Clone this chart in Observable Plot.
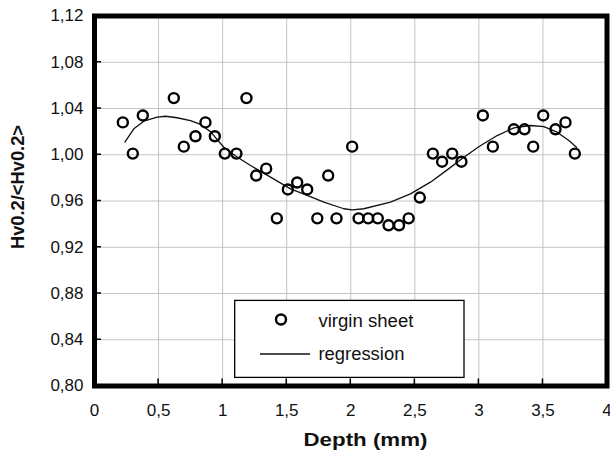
<!DOCTYPE html>
<html>
<head>
<meta charset="utf-8">
<script src="https://cdn.jsdelivr.net/npm/d3@7"></script>
<script src="https://cdn.jsdelivr.net/npm/@observablehq/plot@0.6"></script>
<style>
  html, body { margin: 0; padding: 0; background: #fff; }
  #chart { width: 610px; height: 454px; }
</style>
</head>
<body>
<div id="chart"></div>
<script>
// ---- data ----
const depth = [0.221, 0.299, 0.377, 0.619, 0.697, 0.788, 0.866, 0.939, 1.017, 1.108,
  1.186, 1.262, 1.340, 1.423, 1.509, 1.582, 1.660, 1.739, 1.824, 1.889,
  2.011, 2.061, 2.136, 2.211, 2.295, 2.377, 2.452, 2.539, 2.641, 2.713,
  2.792, 2.864, 3.031, 3.109, 3.273, 3.356, 3.424, 3.502, 3.598, 3.676, 3.749];
const hardness = [1.028, 1.001, 1.034, 1.049, 1.007, 1.016, 1.028, 1.016, 1.001, 1.001,
  1.049, 0.982, 0.988, 0.945, 0.970, 0.976, 0.970, 0.945, 0.982, 0.945,
  1.007, 0.945, 0.945, 0.945, 0.939, 0.939, 0.945, 0.963, 1.001, 0.994,
  1.001, 0.994, 1.034, 1.007, 1.022, 1.022, 1.007, 1.034, 1.022, 1.028, 1.001];

const regDepth = [0.237, 0.307, 0.385, 0.489, 0.554, 0.645, 0.749, 0.827, 0.905, 1.009,
  1.113, 1.218, 1.374, 1.530, 1.660, 1.790, 1.946, 2.011, 2.102, 2.310,
  2.466, 2.622, 2.753, 2.883, 3.005, 3.143, 3.273, 3.403, 3.507, 3.611, 3.702, 3.762];
const regValue = [1.011, 1.0224, 1.029, 1.0325, 1.0333, 1.032, 1.0296, 1.0262, 1.020, 1.0065,
  0.998, 0.9907, 0.9806, 0.9705, 0.9648, 0.959, 0.9533, 0.9524, 0.9533, 0.959,
  0.9662, 0.9763, 0.9869, 0.9979, 1.0074, 1.0166, 1.0233, 1.0253, 1.0244, 1.0195, 1.0123, 1.0065];

const xTicks = [0, 0.5, 1, 1.5, 2, 2.5, 3, 3.5, 4];
const xTickLabels = ["0", "0,5", "1", "1,5", "2", "2,5", "3", "3,5", "4"];
const yTicks = [0.80, 0.84, 0.88, 0.92, 0.96, 1.00, 1.04, 1.08, 1.12];
const yTickLabels = ["0,80", "0,84", "0,88", "0,92", "0,96", "1,00", "1,04", "1,08", "1,12"];

const xTitle = "Depth (mm)";
const yTitle = "Hv0.2/<Hv0.2>";
const legendLabels = ["virgin sheet", "regression"];

// ---- build tables ----
const points = depth.map((d, i) => ({depth: d, value: hardness[i]}));
const curve = regDepth.map((d, i) => ({depth: d, value: regValue[i]}));

const FONT = "'Liberation Sans', Arial, Helvetica, sans-serif";

const fig = Plot.plot({
  width: 610,
  height: 454,
  marginLeft: 94,
  marginRight: 3.5,
  marginTop: 15.5,
  marginBottom: 68.5,
  style: {fontFamily: FONT, background: "#fff", overflow: "visible"},
  x: {domain: [0, 4]},
  y: {domain: [0.80, 1.12]},
  marks: [
    Plot.gridX(xTicks, {stroke: "#c4c4c4", strokeOpacity: 1, strokeWidth: 1}),
    Plot.gridY(yTicks, {stroke: "#c4c4c4", strokeOpacity: 1, strokeWidth: 1}),
    Plot.axisX(xTicks, {
      tickSize: 0, tickPadding: 18, fontSize: 17, fill: "#111",
      tickFormat: d => xTickLabels[xTicks.indexOf(d)], label: null
    }),
    Plot.axisY(yTicks, {
      tickSize: 0, tickPadding: 11, fontSize: 17, fill: "#111",
      tickFormat: d => yTickLabels[yTicks.indexOf(d)], label: null
    }),
    Plot.line(curve, {x: "depth", y: "value", stroke: "#111", strokeWidth: 1.3, curve: "linear"}),
    Plot.dot(points, {x: "depth", y: "value", r: 5, stroke: "#000", strokeWidth: 2.4, fill: "none"}),
    Plot.frame({stroke: "#000", strokeWidth: 5})
  ]
});

document.getElementById("chart").appendChild(fig);

// ---- inward tick marks, titles and legend ----
const svg = d3.select(fig);
const sx = fig.scale("x"), sy = fig.scale("y");
const x0 = sx.apply(0), yBottom = sy.apply(0.80);

const tg = svg.append("g").attr("stroke", "#000").attr("stroke-width", 1.5);
xTicks.slice(1, -1).forEach(t => {
  const px = sx.apply(t);
  tg.append("line").attr("x1", px).attr("x2", px).attr("y1", yBottom).attr("y2", yBottom - 7);
});
yTicks.slice(1, -1).forEach(t => {
  const py = sy.apply(t);
  tg.append("line").attr("x1", x0).attr("x2", x0 + 7).attr("y1", py).attr("y2", py);
});

svg.append("text")
  .attr("x", 365.5).attr("y", 445.5)
  .attr("text-anchor", "middle")
  .attr("font-family", FONT).attr("font-weight", "bold").attr("font-size", 18.5)
  .attr("textLength", 124).attr("lengthAdjust", "spacingAndGlyphs")
  .attr("fill", "#111")
  .text(xTitle);

svg.append("text")
  .attr("transform", "translate(23.5,187) rotate(-90)")
  .attr("text-anchor", "middle")
  .attr("font-family", FONT).attr("font-weight", "bold").attr("font-size", 18.3)
  .attr("fill", "#111")
  .text(yTitle);

const lg = svg.append("g");
lg.append("rect")
  .attr("x", 234.7).attr("y", 300.4).attr("width", 229.3).attr("height", 77)
  .attr("fill", "#fff").attr("stroke", "#000").attr("stroke-width", 1.3);
lg.append("circle")
  .attr("cx", 281).attr("cy", 319.5).attr("r", 5)
  .attr("fill", "none").attr("stroke", "#000").attr("stroke-width", 2.4);
lg.append("line")
  .attr("x1", 260).attr("x2", 310).attr("y1", 354).attr("y2", 354)
  .attr("stroke", "#111").attr("stroke-width", 1.3);
lg.append("text")
  .attr("x", 318.4).attr("y", 326.5)
  .attr("text-anchor", "start")
  .attr("font-family", FONT).attr("font-size", 17.5)
  .attr("textLength", 95).attr("lengthAdjust", "spacingAndGlyphs")
  .attr("fill", "#111")
  .text(legendLabels[0]);
lg.append("text")
  .attr("x", 318.4).attr("y", 360)
  .attr("text-anchor", "start")
  .attr("font-family", FONT).attr("font-size", 17.5)
  .attr("textLength", 86).attr("lengthAdjust", "spacingAndGlyphs")
  .attr("fill", "#111")
  .text(legendLabels[1]);
</script>
</body>
</html>
